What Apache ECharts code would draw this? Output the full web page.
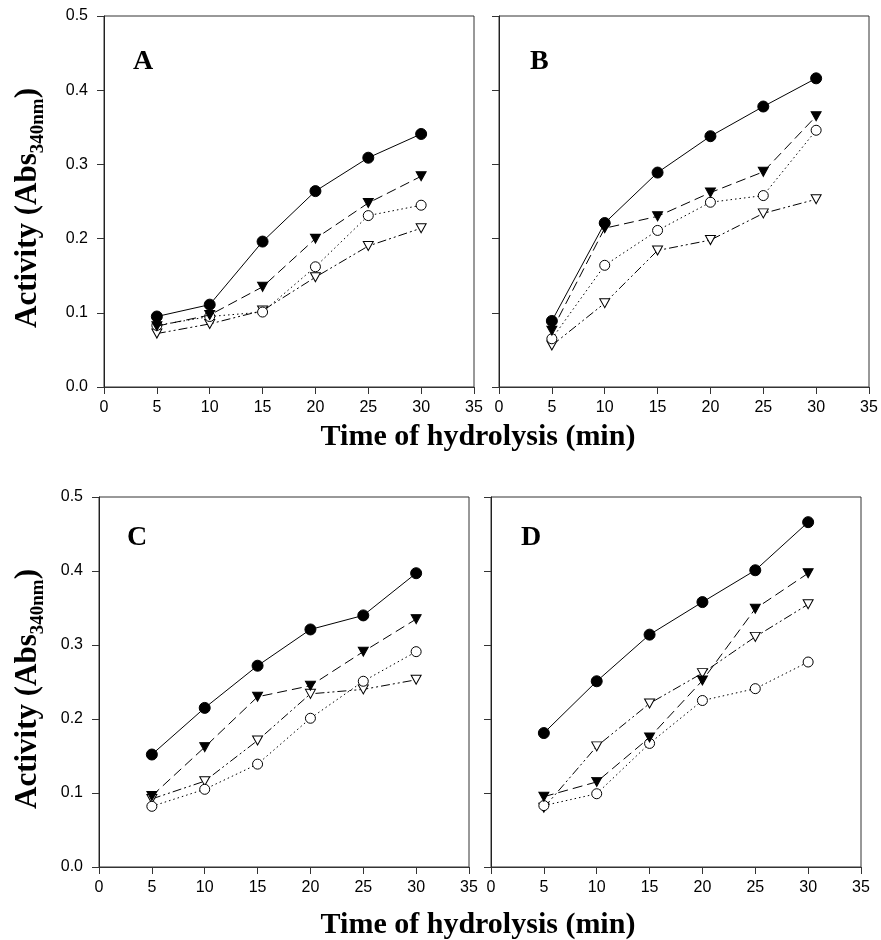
<!DOCTYPE html>
<html>
<head>
<meta charset="utf-8">
<script src="https://cdn.jsdelivr.net/npm/echarts@6/dist/echarts.min.js"></script>
<style>
  html, body { margin: 0; background: #fff; }
  #chart { width: 881px; height: 940px; }
</style>
</head>
<body>
<div id="chart"></div>
<script>
// sampling times (min)
const timeMin = [5, 10, 15, 20, 25, 30];
const yTickLabels = ['0.0', '0.1', '0.2', '0.3', '0.4', '0.5'];
const panelLetters = ['A', 'B', 'C', 'D'];

// panel A
const aFilledCircle = [0.095, 0.111, 0.196, 0.264, 0.309, 0.341];
const aFilledTriangle = [0.082, 0.097, 0.135, 0.200, 0.248, 0.284];
const aOpenCircle = [0.083, 0.095, 0.101, 0.162, 0.231, 0.245];
const aOpenTriangle = [0.072, 0.085, 0.103, 0.148, 0.190, 0.214];
// panel B
const bFilledCircle = [0.089, 0.221, 0.289, 0.338, 0.378, 0.416];
const bFilledTriangle = [0.076, 0.214, 0.230, 0.262, 0.290, 0.365];
const bOpenCircle = [0.065, 0.164, 0.211, 0.249, 0.258, 0.346];
const bOpenTriangle = [0.056, 0.113, 0.184, 0.198, 0.234, 0.253];
// panel C
const cFilledCircle = [0.152, 0.215, 0.272, 0.321, 0.340, 0.397];
const cFilledTriangle = [0.096, 0.162, 0.230, 0.245, 0.291, 0.335];
const cOpenCircle = [0.082, 0.105, 0.139, 0.201, 0.251, 0.291];
const cOpenTriangle = [0.092, 0.116, 0.171, 0.234, 0.240, 0.253];
// panel D
const dFilledCircle = [0.181, 0.251, 0.314, 0.358, 0.401, 0.466];
const dFilledTriangle = [0.095, 0.115, 0.175, 0.252, 0.349, 0.397];
const dOpenCircle = [0.083, 0.099, 0.167, 0.225, 0.241, 0.277];
const dOpenTriangle = [0.080, 0.163, 0.221, 0.262, 0.311, 0.355];

const panelData = [
  [aOpenTriangle, aOpenCircle, aFilledTriangle, aFilledCircle],
  [bOpenTriangle, bOpenCircle, bFilledTriangle, bFilledCircle],
  [cOpenTriangle, cOpenCircle, cFilledTriangle, cFilledCircle],
  [dOpenTriangle, dOpenCircle, dFilledTriangle, dFilledCircle]
];

// marker / line style per curve (same order as panelData rows)
const curveStyles = [
  { symbol: 'triangle', size: [10, 9], fill: '#fff', dash: [9, 3, 2, 3, 2, 3] },
  { symbol: 'circle', size: 10, fill: '#fff', dash: [1.5, 3] },
  { symbol: 'triangle', size: [10, 9], fill: '#000', dash: [10, 5] },
  { symbol: 'circle', size: 11, fill: '#000', dash: 'solid' }
];

const grids = [
  { left: 104, top: 16, width: 370, height: 371 },
  { left: 499, top: 16, width: 370, height: 371 },
  { left: 99, top: 497, width: 370, height: 370 },
  { left: 491, top: 497, width: 370, height: 370 }
];

const serif = '"Liberation Serif", "Times New Roman", serif';
const sans = '"Liberation Sans", Arial, sans-serif';

const series = [];
panelData.forEach((curves, p) => {
  curves.forEach((vals, k) => {
    const st = curveStyles[k];
    series.push({
      type: 'line',
      xAxisIndex: p,
      yAxisIndex: p,
      data: timeMin.map((t, i) => [t, vals[i]]),
      symbol: st.symbol,
      symbolSize: st.size,
      symbolRotate: st.symbol === 'triangle' ? 180 : 0,
      itemStyle: { color: st.fill, borderColor: '#000', borderWidth: 1 },
      lineStyle: { color: '#000', width: 1, type: st.dash },
      z: 2 + k,
      silent: true
    });
  });
});

const xAxes = grids.map((g, i) => ({
  type: 'value', gridIndex: i, min: 0, max: 35, interval: 5,
  axisLine: { lineStyle: { color: '#333', width: 1 } },
  axisTick: { inside: false, length: 7, lineStyle: { color: '#333' } },
  axisLabel: { fontFamily: sans, fontSize: 16, color: '#000', margin: 13 },
  splitLine: { show: false }
}));

const yAxes = grids.map((g, i) => ({
  type: 'value', gridIndex: i, min: 0, max: 0.5, interval: 0.1,
  axisLine: { show: true, lineStyle: { color: '#222', width: 1 } },
  axisTick: { show: true, inside: false, length: 7, lineStyle: { color: '#333' } },
  axisLabel: {
    show: i % 2 === 0, fontFamily: sans, fontSize: 16, color: '#000', margin: 16,
    formatter: v => yTickLabels[Math.round(v * 10)]
  },
  splitLine: { show: false }
}));

const letterPos = [[133, 62], [530, 62], [127, 538], [521, 538]];
const graphics = [];
panelLetters.forEach((ch, i) => {
  graphics.push({
    type: 'text', x: letterPos[i][0], y: letterPos[i][1],
    style: { text: ch, font: 'bold 28px ' + serif, fill: '#000', align: 'left', verticalAlign: 'middle' }
  });
});
[208, 689].forEach(cy => {
  graphics.push({
    type: 'text', x: 28, y: cy, rotation: Math.PI / 2,
    style: {
      text: '{m|Activity (Abs}{s|340nm}{m|)}',
      align: 'center', verticalAlign: 'middle',
      rich: {
        m: { fontFamily: serif, fontWeight: 'bold', fontSize: 31, lineHeight: 40, fill: '#000', verticalAlign: 'middle' },
        s: { fontFamily: serif, fontWeight: 'bold', fontSize: 19, lineHeight: 22, fill: '#000', verticalAlign: 'bottom' }
      }
    }
  });
});
[437, 925].forEach(cy => {
  graphics.push({
    type: 'text', x: 478, y: cy,
    style: { text: 'Time of hydrolysis (min)', font: 'bold 30px ' + serif, fill: '#000', align: 'center', verticalAlign: 'middle' }
  });
});

const chart = echarts.init(document.getElementById('chart'), null, { renderer: 'canvas' });
chart.setOption({
  animation: false,
  backgroundColor: '#fff',
  grid: grids.map(g => Object.assign({ show: true, borderColor: '#333', borderWidth: 1, backgroundColor: 'transparent' }, g)),
  xAxis: xAxes,
  yAxis: yAxes,
  series: series,
  graphic: graphics
});
</script>
</body>
</html>
